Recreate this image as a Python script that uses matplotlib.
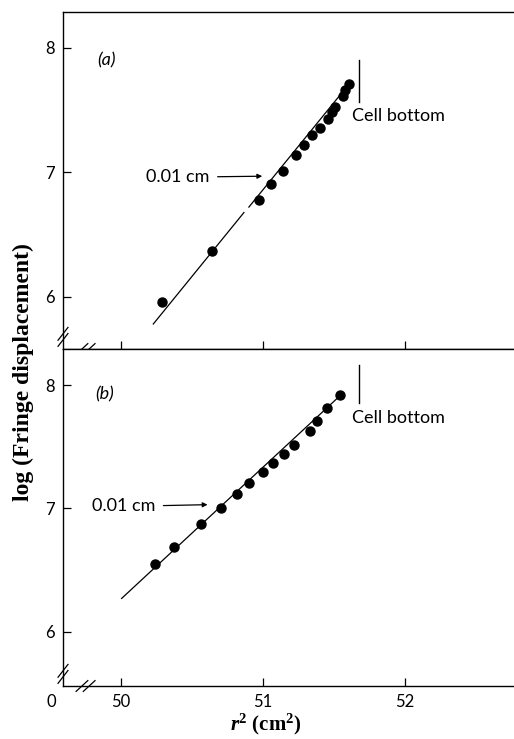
import matplotlib
matplotlib.use("Agg")
import matplotlib.pyplot as plt
import matplotlib.transforms as mtransforms

plt.rcParams["mathtext.fontset"] = "custom"
plt.rcParams["mathtext.rm"] = "Liberation Serif:bold"
plt.rcParams["mathtext.it"] = "Liberation Serif:italic:bold"
plt.rcParams["mathtext.bf"] = "Liberation Serif:bold"

# ---------------- data ----------------
# panel (a)
r2_a = [50.287, 50.639, 50.972, 51.058, 51.141, 51.230, 51.287, 51.345,
        51.401, 51.456, 51.488, 51.507, 51.561, 51.577, 51.606]
logd_a = [5.96, 6.367, 6.775, 6.907, 7.014, 7.138, 7.217, 7.301,
          7.360, 7.428, 7.482, 7.523, 7.618, 7.659, 7.713]
fit_a_x1 = [50.228, 50.866]
fit_a_y1 = [5.783, 6.678]
fit_a_x2 = [50.901, 51.613]
fit_a_y2 = [6.722, 7.720]
cell_a_x = [51.676, 51.676]
cell_a_y = [7.569, 7.904]

# panel (b)
r2_b = [50.237, 50.371, 50.563, 50.702, 50.817, 50.904, 50.998, 51.073,
        51.148, 51.218, 51.329, 51.380, 51.453, 51.544]
logd_b = [6.549, 6.689, 6.873, 7.003, 7.117, 7.203, 7.292, 7.368,
          7.444, 7.514, 7.628, 7.709, 7.811, 7.920]
fit_b_x = [50.005, 51.535]
fit_b_y = [6.27, 7.905]
cell_b_x = [51.676, 51.676]
cell_b_y = [7.851, 8.165]

xticks = [50, 51, 52]
xticklabels = ["50", "51", "52"]
yticks = [6, 7, 8]
yticklabels = ["6", "7", "8"]

SANS = ["Lato", "DejaVu Sans"]
SERIF = ["Liberation Serif", "DejaVu Serif"]
TXT = 13

fig = plt.figure(figsize=(5.14, 7.39), dpi=100)
W, H = 514, 739
L = 63 / W
ax_a = fig.add_axes([L, (H - 349) / H, 1 - L, 337 / H])
ax_b = fig.add_axes([L, (H - 686) / H, 1 - L, 337 / H])

lw = 0.9
for ax, ylim in ((ax_a, (5.582, 8.289)), (ax_b, (5.56, 8.292))):
    ax.set_xlim(49.592, 52.768)
    ax.set_ylim(*ylim)
    ax.spines["right"].set_visible(False)
    for s in ("left", "top", "bottom"):
        ax.spines[s].set_linewidth(1.0)
    ax.set_yticks(yticks)
    ax.set_yticklabels(yticklabels, family=SANS, fontsize=12)
    ax.set_xticks(xticks)
    ax.tick_params(direction="in", length=6, width=0.9, pad=6)
    ax.tick_params(axis="y", pad=6)
    kw = dict(transform=ax.transAxes, color="black", lw=0.9, clip_on=False)
    # y-axis break: two slashes across left spine near bottom
    for dy in (0.0, 0.018):
        ax.plot([-0.011, 0.011], [0.008 + dy, 0.046 + dy], **kw)
    # x-axis break: two slashes across bottom spine
    for dx in (0.0, 0.016):
        ax.plot([0.029 + dx, 0.055 + dx], [-0.016, 0.016], **kw)

ax_a.set_xticklabels([])
ax_b.set_xticklabels(xticklabels, family=SANS, fontsize=12)

# ---- panel (a) ----
ax_a.plot(r2_a, logd_a, "o", color="black", ms=6.5)
ax_a.plot(fit_a_x1, fit_a_y1, color="black", lw=lw)
ax_a.plot(fit_a_x2, fit_a_y2, color="black", lw=lw)
ax_a.plot(cell_a_x, cell_a_y, color="black", lw=1.0)
ax_a.text(51.627, 7.454, "Cell bottom", family=SANS, fontsize=TXT,
          ha="left", va="center")
ax_a.text(49.83, 7.90, "(a)", family=SANS, style="italic", fontsize=TXT,
          ha="left", va="center")
ax_a.annotate("0.01 cm", xy=(50.995, 6.97), xytext=(50.176, 6.962),
              family=SANS, fontsize=TXT, ha="left", va="center",
              arrowprops=dict(arrowstyle="-|>", color="black", lw=0.9,
                              mutation_scale=7, shrinkA=4, shrinkB=0))

# ---- panel (b) ----
ax_b.plot(r2_b, logd_b, "o", color="black", ms=6.5)
ax_b.plot(fit_b_x, fit_b_y, color="black", lw=lw)
ax_b.plot(cell_b_x, cell_b_y, color="black", lw=1.0)
ax_b.text(51.627, 7.73, "Cell bottom", family=SANS, fontsize=TXT,
          ha="left", va="center")
ax_b.text(49.82, 7.92, "(b)", family=SANS, style="italic", fontsize=TXT,
          ha="left", va="center")
ax_b.annotate("0.01 cm", xy=(50.61, 7.03), xytext=(49.794, 7.016),
              family=SANS, fontsize=TXT, ha="left", va="center",
              arrowprops=dict(arrowstyle="-|>", color="black", lw=0.9,
                              mutation_scale=7, shrinkA=4, shrinkB=0))

# origin label "0"
trans = mtransforms.blended_transform_factory(ax_b.transData, ax_b.transAxes)
ax_b.text(49.507, -0.048, "0", family=SANS, fontsize=12, ha="center",
          va="center", transform=trans)

# axis labels
fig.text(266 / W, 1 - 724 / H, r"$\mathit{r}^{2}$ (cm$^{2}$)", family=SERIF,
         fontweight="bold", fontsize=15, ha="center", va="center")
fig.text(23 / W, 1 - 372 / H, "log (Fringe displacement)", family=SERIF,
         fontweight="bold", fontsize=17, rotation=90, ha="center",
         va="center")

fig.savefig("out.png", dpi=100)
